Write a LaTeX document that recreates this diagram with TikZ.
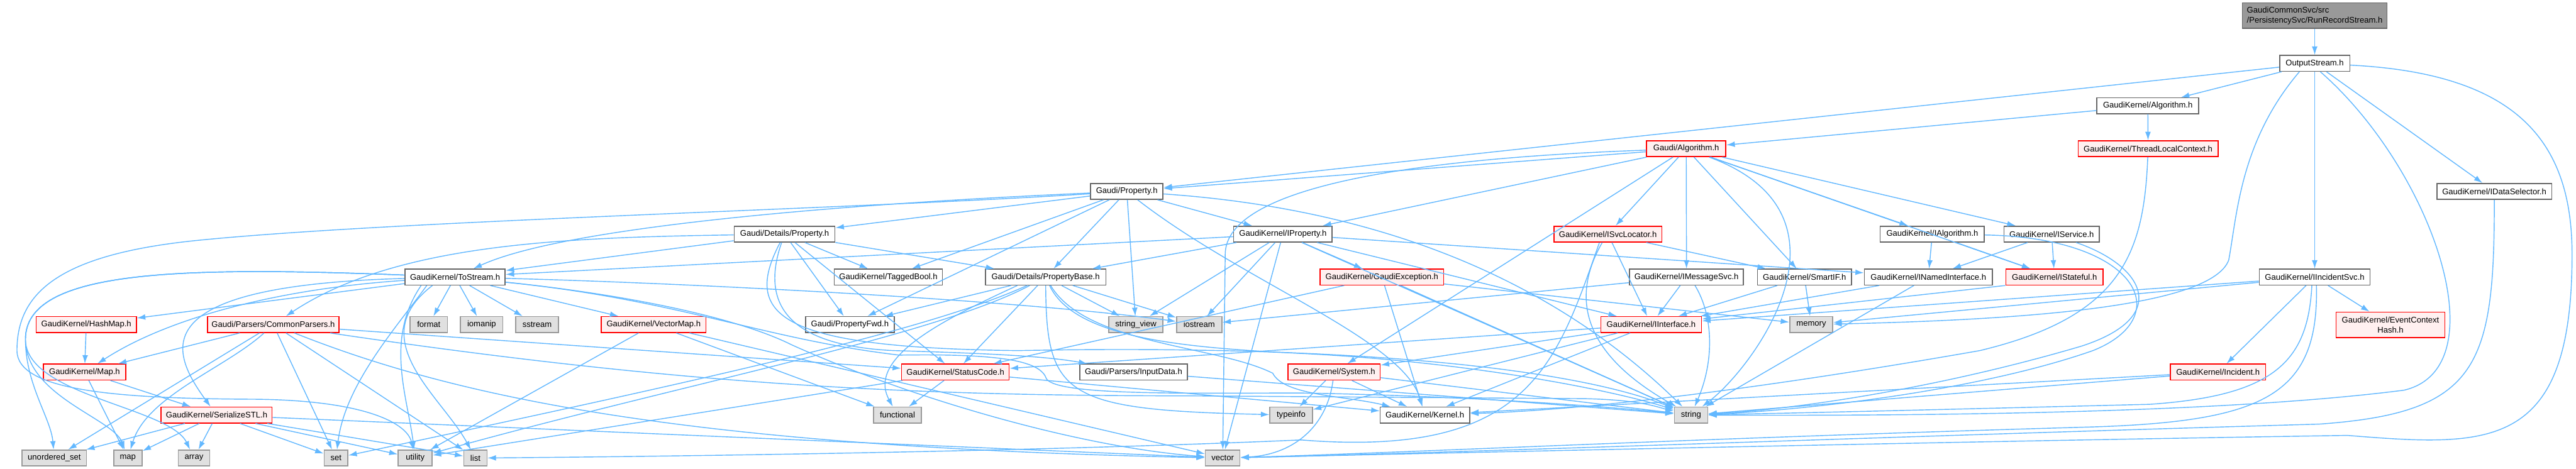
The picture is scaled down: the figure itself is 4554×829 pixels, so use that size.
\documentclass[tikz,border=0pt]{standalone}
\usepackage{fontspec}
\setmainfont{Liberation Sans}
\usetikzlibrary{arrows.meta}
\definecolor{edgec}{HTML}{63B8FF}
\definecolor{ndc}{HTML}{666666}
\definecolor{redf}{HTML}{FFF0F0}
\definecolor{gyf}{HTML}{E0E0E0}
\definecolor{gyd}{HTML}{999999}
\definecolor{rootf}{HTML}{999999}
\begin{document}
\begin{tikzpicture}[x=0.01cm,y=-0.01cm,
 nd/.style={draw=ndc,fill=white,line width=0.5pt,minimum height=0.28cm,inner sep=0pt,font=\fontsize{4.13}{5}\selectfont},
 rd/.style={nd,draw=red,fill=redf},
 gy/.style={nd,draw=gyd,fill=gyf},
 rt/.style={nd,fill=rootf},
 edg/.style={draw=edgec,line width=0.45pt,-{Latex[length=1.5mm,width=1mm]}}]
\useasboundingbox (0,0) rectangle (4554,829);
% rank 0-4
\node[rt,minimum width=2.56cm,minimum height=0.45cm,align=left] (RRS) at (4092,27.5) {GaudiCommonSvc/src\\/PersistencySvc/RunRecordStream.h};
\node[nd,minimum width=1.24cm] (OS) at (4092,112) {OutputStream.h};
\node[nd,minimum width=1.80cm] (GKAlg) at (3797,187) {GaudiKernel/Algorithm.h};
\node[rd,minimum width=1.40cm] (GAlg) at (2981,263) {Gaudi/Algorithm.h};
\node[rd,minimum width=2.47cm] (TLC) at (3797.5,263) {GaudiKernel/ThreadLocalContext.h};
\node[nd,minimum width=1.28cm] (GProp) at (1992,338.5) {Gaudi/Property.h};
\node[nd,minimum width=2.03cm] (IDataSel) at (4409.5,338.5) {GaudiKernel/IDataSelector.h};
% rank 5
\node[nd,minimum width=1.78cm] (DProp) at (1387,414) {Gaudi/Details/Property.h};
\node[nd,minimum width=1.74cm] (IProperty) at (2268,414) {GaudiKernel/IProperty.h};
\node[rd,minimum width=1.91cm] (ISvcLoc) at (2842.5,414) {GaudiKernel/ISvcLocator.h};
\node[nd,minimum width=1.84cm] (IAlg) at (3416,414) {GaudiKernel/IAlgorithm.h};
\node[nd,minimum width=1.68cm] (IService) at (3627,414) {GaudiKernel/IService.h};
% rank 6
\node[nd,minimum width=1.77cm] (ToStream) at (804.5,490) {GaudiKernel/ToStream.h};
\node[nd,minimum width=1.91cm] (TaggedBool) at (1570.5,490) {GaudiKernel/TaggedBool.h};
\node[nd,minimum width=2.13cm] (PropBase) at (1848.5,490) {Gaudi/Details/PropertyBase.h};
\node[rd,minimum width=2.18cm] (GaudiException) at (2443,490) {GaudiKernel/GaudiException.h};
\node[nd,minimum width=2.01cm] (IMsgSvc) at (2981.5,490) {GaudiKernel/IMessageSvc.h};
\node[nd,minimum width=1.66cm] (SmartIF) at (3190,490) {GaudiKernel/SmartIF.h};
\node[nd,minimum width=2.26cm] (INamed) at (3409,490) {GaudiKernel/INamedInterface.h};
\node[rd,minimum width=1.72cm] (IStateful) at (3632,490) {GaudiKernel/IStateful.h};
\node[nd,minimum width=1.96cm] (IIncSvc) at (4092,490) {GaudiKernel/IIncidentSvc.h};
% rank 7
\node[rd,minimum width=1.77cm] (HashMap) at (152.5,574) {GaudiKernel/HashMap.h};
\node[rd,minimum width=2.32cm] (CommonParsers) at (483,574) {Gaudi/Parsers/CommonParsers.h};
\node[gy,minimum width=0.66cm] (format) at (758,574) {format};
\node[gy,minimum width=0.75cm] (iomanip) at (851.5,574) {iomanip};
\node[gy,minimum width=0.75cm] (sstream) at (949.5,574) {sstream};
\node[rd,minimum width=1.85cm] (VectorMap) at (1155.5,574) {GaudiKernel/VectorMap.h};
\node[nd,minimum width=1.57cm] (PropFwd) at (1502.5,574) {Gaudi/PropertyFwd.h};
\node[gy,minimum width=0.96cm] (sv) at (2008,574) {string\_view};
\node[gy,minimum width=0.80cm] (iostream) at (2120,574) {iostream};
\node[rd,minimum width=1.78cm] (IInterface) at (2919,574) {GaudiKernel/IInterface.h};
\node[gy,minimum width=0.76cm] (memory) at (3202,574) {memory};
\node[rd,minimum width=1.92cm,minimum height=0.45cm,align=center] (ECH) at (4226,574.5) {GaudiKernel/EventContext\\Hash.h};
% rank 8
\node[rd,minimum width=1.45cm] (Map) at (149.5,658) {GaudiKernel/Map.h};
\node[rd,minimum width=1.90cm] (StatusCode) at (1689,658) {GaudiKernel/StatusCode.h};
\node[nd,minimum width=1.90cm] (InputData) at (2004,658) {Gaudi/Parsers/InputData.h};
\node[rd,minimum width=1.63cm] (System) at (2358.5,658) {GaudiKernel/System.h};
\node[rd,minimum width=1.68cm] (Incident) at (3921,658) {GaudiKernel/Incident.h};
% rank 9
\node[rd,minimum width=1.96cm] (SerializeSTL) at (383,734) {GaudiKernel/SerializeSTL.h};
\node[gy,minimum width=0.85cm] (functional) at (1586.5,734) {functional};
\node[gy,minimum width=0.75cm] (typeinfo) at (2282.5,734) {typeinfo};
\node[nd,minimum width=1.58cm] (Kernel) at (2519,734) {GaudiKernel/Kernel.h};
\node[gy,minimum width=0.59cm] (string) at (2989.5,734) {string};
% rank 10
\node[gy,minimum width=1.14cm] (uset) at (96,810) {unordered\_set};
\node[gy,minimum width=0.50cm] (map) at (226,810) {map};
\node[gy,minimum width=0.56cm] (array) at (343,810) {array};
\node[gy,minimum width=0.42cm] (set) at (594,810) {set};
\node[gy,minimum width=0.60cm] (utility) at (734,810) {utility};
\node[gy,minimum width=0.41cm] (list) at (840.5,810) {list};
\node[gy,minimum width=0.61cm] (vector) at (2161.5,810) {vector};

% straight connectors
\foreach \a/\b in {RRS/OS, OS/GKAlg, OS/GProp, OS/IDataSel, OS/IIncSvc, GKAlg/GAlg, GKAlg/TLC,
 GAlg/GProp, GAlg/IProperty, GAlg/ISvcLoc, GAlg/IMsgSvc, GAlg/SmartIF, GAlg/IAlg, GAlg/IService, GAlg/IStateful, GAlg/System,
 GProp/DProp, GProp/PropBase, GProp/PropFwd, GProp/TaggedBool, GProp/IProperty, GProp/sv,
 DProp/PropBase, DProp/PropFwd, DProp/TaggedBool, DProp/StatusCode, DProp/ToStream,
 PropBase/PropFwd, PropBase/StatusCode, PropBase/sv, PropBase/iostream,
 IProperty/ToStream, IProperty/PropBase, IProperty/sv, IProperty/iostream, IProperty/vector, IProperty/GaudiException, IProperty/INamed, IProperty/IInterface, IProperty/string,
 ISvcLoc/IInterface, ISvcLoc/SmartIF, IMsgSvc/IInterface, IMsgSvc/iostream, SmartIF/IInterface, SmartIF/memory,
 INamed/IInterface, INamed/string, IAlg/INamed, IAlg/IStateful, IService/INamed, IService/IStateful,
 IIncSvc/Incident, IIncSvc/ECH, IIncSvc/IInterface, IIncSvc/memory, Incident/Kernel, Incident/string,
 ToStream/HashMap, ToStream/format, ToStream/iomanip, ToStream/sstream, ToStream/VectorMap,
 HashMap/Map, Map/map, Map/SerializeSTL,
 SerializeSTL/uset, SerializeSTL/map, SerializeSTL/array, SerializeSTL/set, SerializeSTL/utility, SerializeSTL/list, SerializeSTL/vector,
 CommonParsers/Map, CommonParsers/uset, CommonParsers/set, CommonParsers/list, CommonParsers/StatusCode,
 VectorMap/utility, VectorMap/functional, VectorMap/vector, InputData/string,
 StatusCode/functional, StatusCode/utility, StatusCode/Kernel,
 GaudiException/Kernel, GaudiException/string, GaudiException/StatusCode, GaudiException/memory,
 System/typeinfo, System/Kernel, System/string,
 IInterface/Kernel, IInterface/System, IInterface/StatusCode, IInterface/typeinfo}
 {\draw[edg] (\a) -- (\b);}

% routed connectors
\draw[edg] (IStateful.south west) -- (IInterface);
\draw[edg] (OS) .. controls (4450,130) and (4547,250) .. (4547,450) .. controls (4547,800) and (4400,790) .. (4150,770) .. controls (3500,780) and (2600,800) .. (vector);
\draw[edg] ([xshift=0.1cm]OS.south) .. controls (4300,300) and (4420,650) .. (4250,690) .. controls (3900,735) and (3300,735) .. (string);
\draw[edg] ([xshift=-0.27cm]OS.south) .. controls (3960,250) and (3955,380) .. (3940,460) .. controls (3910,540) and (3600,565) .. (memory);
\draw[edg] (IDataSel) .. controls (4410,650) and (4380,730) .. (4100,750) .. controls (3400,770) and (2600,800) .. (vector);
\draw[edg] (TLC) .. controls (3790,450) and (3750,560) .. (3500,620) .. controls (3100,690) and (2800,725) .. (Kernel);
\draw[edg] (ToStream) .. controls (300,470) and (45,480) .. (45,600) .. controls (45,680) and (90,740) .. (uset);
\draw[edg] (ToStream) .. controls (300,470) and (45,480) .. (45,600) .. controls (45,700) and (200,740) .. (map);
\draw[edg] (ToStream) .. controls (300,470) and (45,480) .. (45,600) .. controls (45,700) and (300,720) .. (array);
\draw[edg] (GProp) .. controls (1500,370) and (700,390) .. (350,425) .. controls (100,450) and (30,520) .. (30,620) .. controls (30,690) and (200,705) .. (450,706) .. controls (650,708) and (720,750) .. (utility);
\draw[edg] (GAlg) .. controls (2500,280) and (2166,330) .. (2166,450) -- (vector);
\draw[edg] ([xshift=-0.15cm]ISvcLoc.south) .. controls (2750,650) and (2700,810) .. (2300,778) .. controls (1800,800) and (1100,808) .. (list);
\draw[edg] ([xshift=-0.1cm]ISvcLoc.south) .. controls (2780,520) and (2790,620) .. (string);
\draw[edg] ([xshift=-0.05cm]IIncSvc.south) .. controls (4080,640) and (4020,700) .. (3800,715) .. controls (3400,725) and (3200,730) .. (string);
\draw[edg] ([xshift=0.03cm]IIncSvc.south) .. controls (4100,700) and (4000,745) .. (3700,755) .. controls (3000,775) and (2500,800) .. (vector);
\draw[edg] (GAlg) .. controls (3300,380) and (3100,650) .. (string);
\draw[edg] (IAlg) .. controls (3780,420) and (3850,560) .. (3700,620) .. controls (3500,690) and (3200,725) .. (string);
\draw[edg] (IService) .. controls (3790,470) and (3840,560) .. (3680,612) .. controls (3450,680) and (3200,722) .. (string);
\draw[edg] ([xshift=0.15cm]IMsgSvc.south) .. controls (3030,560) and (3030,640) .. (string);
\draw[edg] (GProp) .. controls (2450,370) and (2750,500) .. (string);
\draw[edg] (GProp) .. controls (2200,500) and (2480,600) .. (Kernel);
\draw[edg] (GProp) .. controls (1500,360) and (1000,400) .. (ToStream);
\draw[edg] (DProp) .. controls (1000,420) and (700,430) .. (CommonParsers);
\draw[edg] (DProp) .. controls (1350,520) and (1370,610) .. (1580,620) .. controls (1750,625) and (1850,630) .. (InputData);
\draw[edg] (DProp) .. controls (1310,560) and (1380,615) .. (1800,620) .. controls (2300,610) and (2750,640) .. (string);
\draw[edg] ([xshift=-0.5cm]PropBase.south) .. controls (1680,560) and (1530,630) .. (functional);
\draw[edg] (PropBase) .. controls (1850,700) and (1880,725) .. (typeinfo);
\draw[edg] (PropBase) .. controls (1920,610) and (2150,610) .. (2250,660) .. controls (2270,700) and (2380,700) .. (Kernel);
\draw[edg] (PropBase) .. controls (1900,600) and (2100,615) .. (2300,625) .. controls (2600,640) and (2850,690) .. (string);
\draw[edg] (PropBase) .. controls (1650,580) and (1300,660) .. (set);
\draw[edg] (PropBase) .. controls (1650,595) and (1200,680) .. (utility);
\draw[edg] (ToStream) .. controls (250,505) and (300,620) .. (SerializeSTL);
\draw[edg] (ToStream) .. controls (500,510) and (300,560) .. (Map);
\draw[edg] ([xshift=-0.6cm]ToStream.south) .. controls (680,600) and (720,700) .. (utility);
\draw[edg] ([xshift=-0.5cm]ToStream.south) .. controls (700,580) and (610,680) .. (set);
\draw[edg] ([xshift=-0.4cm]ToStream.south) .. controls (640,600) and (780,700) .. (list);
\draw[edg] (ToStream) .. controls (1200,500) and (1800,530) .. (iostream);
\draw[edg] (ToStream) .. controls (1200,530) and (1350,600) .. (1590,628) .. controls (1780,625) and (1840,640) .. (1850,670) .. controls (1870,700) and (2100,695) .. (2300,695) .. controls (2600,700) and (2850,720) .. (string);
\draw[edg] (ToStream) .. controls (1100,520) and (1300,560) .. (1400,610) .. controls (1600,700) and (1900,790) .. (vector);
\draw[edg] (CommonParsers) .. controls (400,650) and (260,700) .. (map);
\draw[edg] (CommonParsers) .. controls (1200,680) and (1600,700) .. (2100,700) -- (2800,705) .. controls (2900,707) and (2930,720) .. (string);
\draw[edg] (CommonParsers) .. controls (800,700) and (1200,790) .. (vector);
\draw[edg] (System) .. controls (2345,760) and (2280,805) .. (vector);
\end{tikzpicture}
\end{document}
